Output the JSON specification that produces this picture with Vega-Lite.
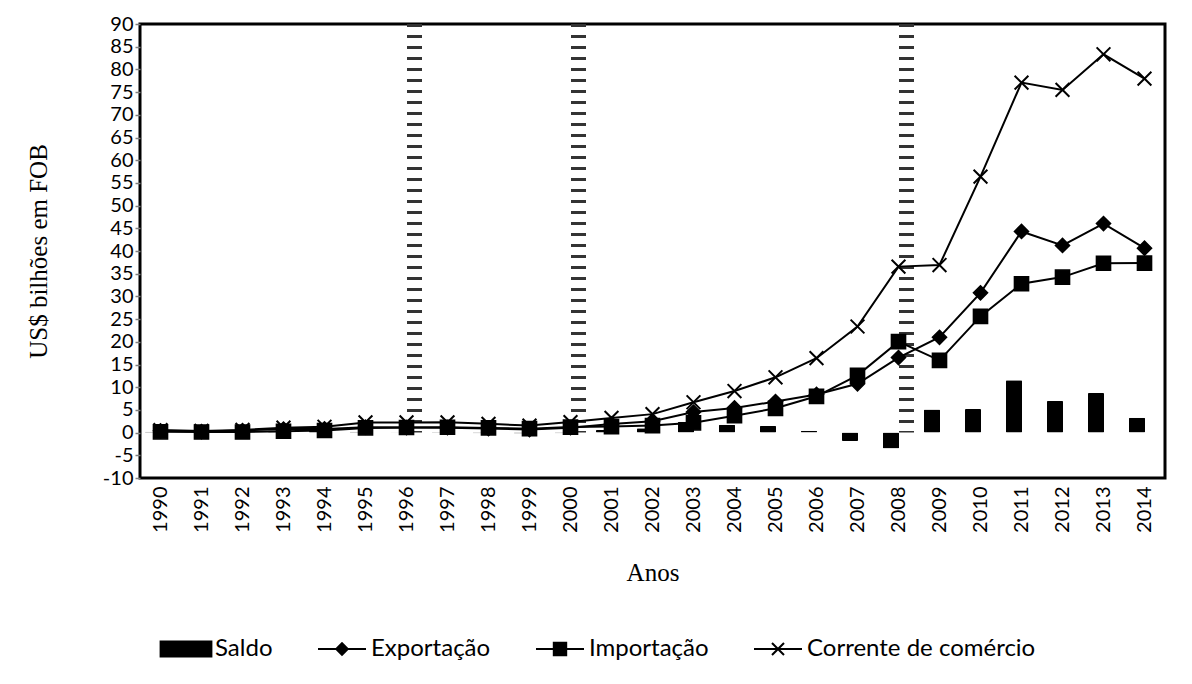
{
  "$schema": "https://vega.github.io/schema/vega-lite/v6.json",
  "width": 1025,
  "height": 454,
  "autosize": {"type": "none"},
  "padding": {"left": 140, "top": 24, "right": 27, "bottom": 206},
  "background": "white",
  "config": {
    "view": {"stroke": "black", "strokeWidth": 3},
    "font": "Lato"
  },
  "datasets": {
    "comercio": [
      {"ano": "1990", "serie": "Saldo", "valor": 0.21},
      {"ano": "1991", "serie": "Saldo", "valor": 0.10},
      {"ano": "1992", "serie": "Saldo", "valor": 0.33},
      {"ano": "1993", "serie": "Saldo", "valor": 0.48},
      {"ano": "1994", "serie": "Saldo", "valor": 0.36},
      {"ano": "1995", "serie": "Saldo", "valor": 0.16},
      {"ano": "1996", "serie": "Saldo", "valor": -0.02},
      {"ano": "1997", "serie": "Saldo", "valor": -0.08},
      {"ano": "1998", "serie": "Saldo", "valor": -0.13},
      {"ano": "1999", "serie": "Saldo", "valor": -0.19},
      {"ano": "2000", "serie": "Saldo", "valor": -0.13},
      {"ano": "2001", "serie": "Saldo", "valor": 0.57},
      {"ano": "2002", "serie": "Saldo", "valor": 0.97},
      {"ano": "2003", "serie": "Saldo", "valor": 2.38},
      {"ano": "2004", "serie": "Saldo", "valor": 1.73},
      {"ano": "2005", "serie": "Saldo", "valor": 1.48},
      {"ano": "2006", "serie": "Saldo", "valor": 0.41},
      {"ano": "2007", "serie": "Saldo", "valor": -1.87},
      {"ano": "2008", "serie": "Saldo", "valor": -3.52},
      {"ano": "2009", "serie": "Saldo", "valor": 5.09},
      {"ano": "2010", "serie": "Saldo", "valor": 5.20},
      {"ano": "2011", "serie": "Saldo", "valor": 11.52},
      {"ano": "2012", "serie": "Saldo", "valor": 6.98},
      {"ano": "2013", "serie": "Saldo", "valor": 8.73},
      {"ano": "2014", "serie": "Saldo", "valor": 3.28},
      {"ano": "1990", "serie": "Exportação", "valor": 0.38},
      {"ano": "1991", "serie": "Exportação", "valor": 0.23},
      {"ano": "1992", "serie": "Exportação", "valor": 0.46},
      {"ano": "1993", "serie": "Exportação", "valor": 0.78},
      {"ano": "1994", "serie": "Exportação", "valor": 0.82},
      {"ano": "1995", "serie": "Exportação", "valor": 1.20},
      {"ano": "1996", "serie": "Exportação", "valor": 1.11},
      {"ano": "1997", "serie": "Exportação", "valor": 1.09},
      {"ano": "1998", "serie": "Exportação", "valor": 0.90},
      {"ano": "1999", "serie": "Exportação", "valor": 0.68},
      {"ano": "2000", "serie": "Exportação", "valor": 1.09},
      {"ano": "2001", "serie": "Exportação", "valor": 1.90},
      {"ano": "2002", "serie": "Exportação", "valor": 2.52},
      {"ano": "2003", "serie": "Exportação", "valor": 4.53},
      {"ano": "2004", "serie": "Exportação", "valor": 5.44},
      {"ano": "2005", "serie": "Exportação", "valor": 6.83},
      {"ano": "2006", "serie": "Exportação", "valor": 8.40},
      {"ano": "2007", "serie": "Exportação", "valor": 10.75},
      {"ano": "2008", "serie": "Exportação", "valor": 16.52},
      {"ano": "2009", "serie": "Exportação", "valor": 21.00},
      {"ano": "2010", "serie": "Exportação", "valor": 30.79},
      {"ano": "2011", "serie": "Exportação", "valor": 44.31},
      {"ano": "2012", "serie": "Exportação", "valor": 41.23},
      {"ano": "2013", "serie": "Exportação", "valor": 46.03},
      {"ano": "2014", "serie": "Exportação", "valor": 40.62},
      {"ano": "1990", "serie": "Importação", "valor": 0.17},
      {"ano": "1991", "serie": "Importação", "valor": 0.13},
      {"ano": "1992", "serie": "Importação", "valor": 0.13},
      {"ano": "1993", "serie": "Importação", "valor": 0.30},
      {"ano": "1994", "serie": "Importação", "valor": 0.46},
      {"ano": "1995", "serie": "Importação", "valor": 1.04},
      {"ano": "1996", "serie": "Importação", "valor": 1.13},
      {"ano": "1997", "serie": "Importação", "valor": 1.17},
      {"ano": "1998", "serie": "Importação", "valor": 1.03},
      {"ano": "1999", "serie": "Importação", "valor": 0.87},
      {"ano": "2000", "serie": "Importação", "valor": 1.22},
      {"ano": "2001", "serie": "Importação", "valor": 1.33},
      {"ano": "2002", "serie": "Importação", "valor": 1.55},
      {"ano": "2003", "serie": "Importação", "valor": 2.15},
      {"ano": "2004", "serie": "Importação", "valor": 3.71},
      {"ano": "2005", "serie": "Importação", "valor": 5.35},
      {"ano": "2006", "serie": "Importação", "valor": 7.99},
      {"ano": "2007", "serie": "Importação", "valor": 12.62},
      {"ano": "2008", "serie": "Importação", "valor": 20.04},
      {"ano": "2009", "serie": "Importação", "valor": 15.91},
      {"ano": "2010", "serie": "Importação", "valor": 25.59},
      {"ano": "2011", "serie": "Importação", "valor": 32.79},
      {"ano": "2012", "serie": "Importação", "valor": 34.25},
      {"ano": "2013", "serie": "Importação", "valor": 37.30},
      {"ano": "2014", "serie": "Importação", "valor": 37.34},
      {"ano": "1990", "serie": "Corrente de comércio", "valor": 0.55},
      {"ano": "1991", "serie": "Corrente de comércio", "valor": 0.36},
      {"ano": "1992", "serie": "Corrente de comércio", "valor": 0.59},
      {"ano": "1993", "serie": "Corrente de comércio", "valor": 1.08},
      {"ano": "1994", "serie": "Corrente de comércio", "valor": 1.28},
      {"ano": "1995", "serie": "Corrente de comércio", "valor": 2.24},
      {"ano": "1996", "serie": "Corrente de comércio", "valor": 2.24},
      {"ano": "1997", "serie": "Corrente de comércio", "valor": 2.26},
      {"ano": "1998", "serie": "Corrente de comércio", "valor": 1.93},
      {"ano": "1999", "serie": "Corrente de comércio", "valor": 1.55},
      {"ano": "2000", "serie": "Corrente de comércio", "valor": 2.31},
      {"ano": "2001", "serie": "Corrente de comércio", "valor": 3.23},
      {"ano": "2002", "serie": "Corrente de comércio", "valor": 4.07},
      {"ano": "2003", "serie": "Corrente de comércio", "valor": 6.68},
      {"ano": "2004", "serie": "Corrente de comércio", "valor": 9.15},
      {"ano": "2005", "serie": "Corrente de comércio", "valor": 12.18},
      {"ano": "2006", "serie": "Corrente de comércio", "valor": 16.39},
      {"ano": "2007", "serie": "Corrente de comércio", "valor": 23.37},
      {"ano": "2008", "serie": "Corrente de comércio", "valor": 36.56},
      {"ano": "2009", "serie": "Corrente de comércio", "valor": 36.91},
      {"ano": "2010", "serie": "Corrente de comércio", "valor": 56.38},
      {"ano": "2011", "serie": "Corrente de comércio", "valor": 77.10},
      {"ano": "2012", "serie": "Corrente de comércio", "valor": 75.48},
      {"ano": "2013", "serie": "Corrente de comércio", "valor": 83.33},
      {"ano": "2014", "serie": "Corrente de comércio", "valor": 77.96}
    ],
    "marcos": [
      {"ano": "1996", "valor": 90},
      {"ano": "2000", "valor": 90},
      {"ano": "2008", "valor": 90}
    ]
  },
  "encoding": {
    "x": {
      "field": "ano",
      "type": "ordinal",
      "scale": {"paddingInner": 0, "paddingOuter": 0},
      "axis": {
        "title": "Anos",
        "domain": false,
        "ticks": false,
        "labelAngle": -90,
        "labelPadding": 8,
        "labelFont": "Lato",
        "labelFontSize": 20,
        "labelColor": "black",
        "titleFont": "Liberation Serif",
        "titleFontSize": 25,
        "titleFontWeight": "normal",
        "titleColor": "black",
        "titlePadding": 28
      }
    },
    "y": {
      "field": "valor",
      "type": "quantitative",
      "scale": {"domain": [-10, 90], "nice": false, "zero": false},
      "axis": {
        "title": "US$ bilhões em FOB",
        "values": [-10, -5, 0, 5, 10, 15, 20, 25, 30, 35, 40, 45, 50, 55, 60, 65, 70, 75, 80, 85, 90],
        "labelExpr": "'' + datum.value",
        "domain": false,
        "grid": false,
        "tickColor": "#808080",
        "tickSize": 5,
        "tickWidth": 1.5,
        "labelPadding": 2,
        "labelFont": "Lato",
        "labelFontSize": 20,
        "labelColor": "black",
        "titleFont": "Liberation Serif",
        "titleFontSize": 25,
        "titleFontWeight": "normal",
        "titleColor": "black",
        "titlePadding": 51
      }
    }
  },
  "layer": [
    {
      "data": {"name": "marcos"},
      "mark": {"type": "rule", "color": "#333333", "strokeWidth": 15, "strokeDash": [3, 8], "xOffset": 8},
      "encoding": {"y2": {"datum": 0}}
    },
    {
      "data": {"name": "comercio"},
      "transform": [{"filter": "datum.serie === 'Saldo'"}],
      "mark": {"type": "bar", "color": "black", "width": 16, "xOffset": -7.5, "cornerRadius": 1}
    },
    {
      "mark": {"type": "rule", "color": "#8c8c8c", "strokeWidth": 2},
      "encoding": {"y": {"datum": 0}, "x": null}
    },
    {
      "data": {"name": "comercio"},
      "transform": [{"filter": "datum.serie !== 'Saldo'"}],
      "mark": {"type": "line", "color": "black", "strokeWidth": 2},
      "encoding": {"detail": {"field": "serie"}}
    },
    {
      "data": {"name": "comercio"},
      "transform": [{"filter": "datum.serie === 'Exportação'"}],
      "mark": {"type": "point", "shape": "diamond", "filled": true, "fill": "black", "stroke": "black", "strokeWidth": 1.5, "opacity": 1, "size": 200}
    },
    {
      "data": {"name": "comercio"},
      "transform": [{"filter": "datum.serie === 'Importação'"}],
      "mark": {"type": "point", "shape": "square", "filled": true, "fill": "black", "stroke": "black", "strokeWidth": 1.5, "opacity": 1, "size": 200}
    },
    {
      "data": {"name": "comercio"},
      "transform": [{"filter": "datum.serie === 'Corrente de comércio'"}],
      "mark": {"type": "point", "shape": "M-1,-1L1,1M-1,1L1,-1", "filled": false, "stroke": "black", "strokeWidth": 2, "opacity": 1, "size": 190}
    },
    {
      "data": {"name": "comercio"},
      "mark": {"type": "point", "filled": true, "color": "black", "opacity": 0, "size": 10},
      "encoding": {
        "shape": {
          "field": "serie",
          "type": "nominal",
          "scale": {
            "domain": ["Saldo", "Exportação", "Importação", "Corrente de comércio"],
            "range": [
              "M-1.1,-0.35H1.1V0.35H-1.1Z",
              "M-1,-0.042H1V0.042H-1ZM0,-0.3L0.3,0L0,0.3L-0.3,0Z",
              "M-1,-0.042H1V0.042H-1ZM-0.3,-0.3H0.3V0.3H-0.3Z",
              "M-1,-0.042H1V0.042H-1ZM-0.22,-0.28L0.28,0.22L0.22,0.28L-0.28,-0.22ZM-0.28,0.22L0.22,-0.28L0.28,-0.22L-0.22,0.28Z"
            ]
          },
          "legend": {
            "title": null,
            "orient": "none",
            "direction": "horizontal",
            "legendX": 21,
            "legendY": 600,
            "symbolSize": 2304,
            "symbolFillColor": "black",
            "symbolOpacity": 1,
            "labelFont": "Lato",
            "labelFontSize": 24,
            "labelColor": "black",
            "labelLimit": 400,
            "labelOffset": 4,
            "columnPadding": 42
          }
        }
      }
    }
  ]
}
